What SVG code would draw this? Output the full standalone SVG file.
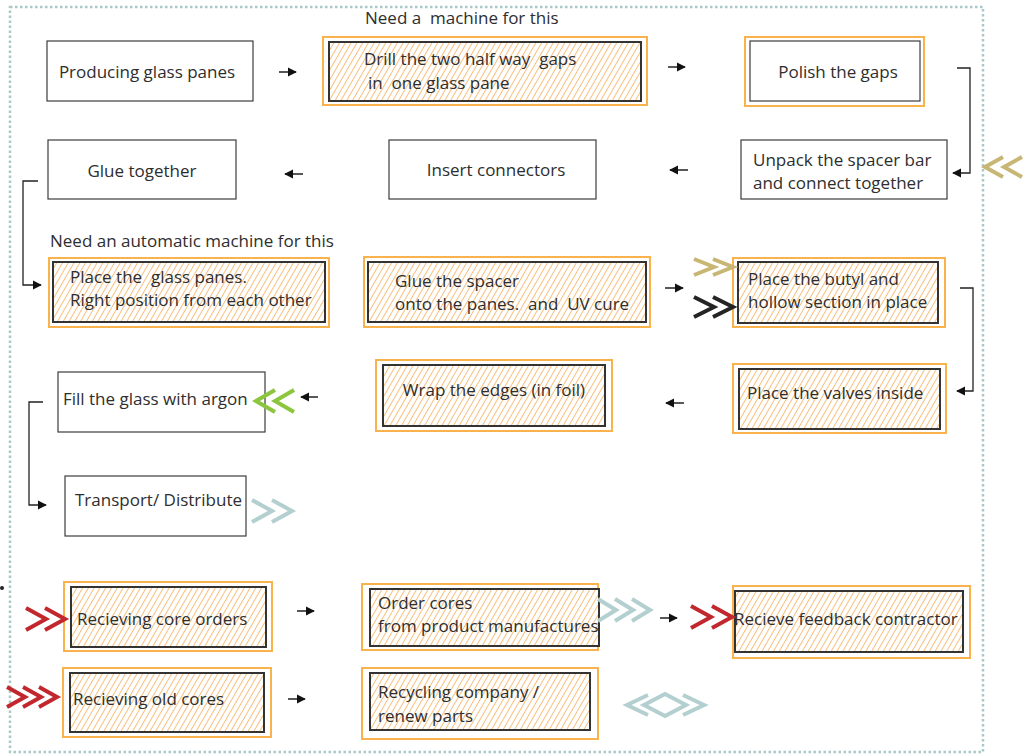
<svg xmlns="http://www.w3.org/2000/svg" width="1025" height="754" viewBox="0 0 1025 754">
  <style>
    text { font-family: "Open Sans", "Noto Sans", "Liberation Sans", sans-serif; font-size: 17px; fill: #2e2e2e; }
    .plain { fill: #ffffff; stroke: #3c3c3c; stroke-width: 1.2; }
    .outer { fill: #ffffff; stroke: #f9b24c; stroke-width: 2; }
    .inner { fill: url(#hatch); stroke: #333333; stroke-width: 2; }
    .link { fill: none; stroke: #222222; stroke-width: 1.3; }
    .step { fill: none; stroke: #111111; stroke-width: 1.4; }
    .chev { fill: none; stroke-width: 4; stroke-linejoin: miter; stroke-linecap: butt; }
    .gold { stroke: #c8b675; }
    .dark { stroke: #242424; }
    .red { stroke: #c1272d; }
    .teal { stroke: #b3cfcf; }
    .green { stroke: #8cc63f; }
  </style>
  <defs>
    <pattern id="hatch" patternUnits="userSpaceOnUse" width="5" height="5" patternTransform="rotate(30)">
      <rect width="5" height="5" fill="#ffffff"/>
      <line x1="0" y1="0" x2="0" y2="5" stroke="#f5a446" stroke-width="1.4"/>
    </pattern>
    <marker id="head" viewBox="0 0 10 10" refX="9" refY="5" markerWidth="9" markerHeight="10" markerUnits="userSpaceOnUse" orient="auto">
      <path d="M0,0 L10,5 L0,10 Z" fill="#111111"/>
    </marker>
  </defs>

  <!-- dotted frame -->
  <rect x="10" y="7" width="973" height="745" fill="none" stroke="#a9c8c8" stroke-width="2.5" stroke-dasharray="2.5 2.5"/>
  <circle cx="2" cy="588" r="2" fill="#222222"/>

  <text x="365" y="24" xml:space="preserve">Need a  machine for this</text>
  <text x="50" y="247">Need an automatic machine for this</text>

  <!-- row 1 -->
  <g id="producing">
    <rect class="plain" x="47" y="41" width="206" height="60"/>
    <text x="147" y="78" text-anchor="middle">Producing glass panes</text>
  </g>
  <g id="drill">
    <rect class="outer" x="323" y="37" width="324" height="68"/>
    <rect class="inner" x="329" y="42" width="312" height="59"/>
    <text x="364" y="65" xml:space="preserve">Drill the two half way  gaps</text>
    <text x="368" y="89" xml:space="preserve">in  one glass pane</text>
  </g>
  <g id="polish">
    <rect class="outer" x="745" y="37" width="179" height="69"/>
    <rect class="plain" x="750" y="41" width="170" height="60" stroke-width="2"/>
    <text x="838" y="78" text-anchor="middle">Polish the gaps</text>
  </g>

  <!-- row 2 -->
  <g id="unpack">
    <rect class="plain" x="741" y="140" width="206" height="59"/>
    <text x="753" y="166">Unpack the spacer bar</text>
    <text x="753" y="189">and connect together</text>
  </g>
  <g id="connectors">
    <rect class="plain" x="389" y="140" width="207" height="59"/>
    <text x="496" y="176" text-anchor="middle">Insert connectors</text>
  </g>
  <g id="glue-together">
    <rect class="plain" x="48" y="140" width="188" height="59"/>
    <text x="142" y="177" text-anchor="middle">Glue together</text>
  </g>

  <!-- row 3 -->
  <g id="place-panes">
    <rect class="outer" x="49" y="258" width="280" height="69"/>
    <rect class="inner" x="53" y="262" width="272" height="60"/>
    <text x="70" y="283" xml:space="preserve">Place the  glass panes.</text>
    <text x="70" y="306">Right position from each other</text>
  </g>
  <g id="glue-spacer">
    <rect class="outer" x="364" y="257" width="286" height="70"/>
    <rect class="inner" x="368" y="262" width="278" height="60"/>
    <text x="395" y="287">Glue the spacer</text>
    <text x="395" y="310" xml:space="preserve">onto the panes.  and  UV cure</text>
  </g>
  <g id="butyl">
    <rect class="outer" x="733" y="258" width="212" height="69"/>
    <rect class="inner" x="738" y="262" width="200" height="61"/>
    <text x="748" y="285">Place the butyl and</text>
    <text x="748" y="308">hollow section in place</text>
  </g>

  <!-- row 4 -->
  <g id="valves">
    <rect class="outer" x="733" y="364" width="213" height="69"/>
    <rect class="inner" x="739" y="369" width="201" height="60"/>
    <text x="747" y="399">Place the valves inside</text>
  </g>
  <g id="wrap">
    <rect class="outer" x="376" y="360" width="236" height="71"/>
    <rect class="inner" x="383" y="365" width="222" height="61"/>
    <text x="494" y="396" text-anchor="middle">Wrap the edges (in foil)</text>
  </g>
  <g id="argon">
    <rect class="plain" x="58" y="372" width="207" height="60"/>
    <text x="63" y="405">Fill the glass with argon</text>
  </g>

  <!-- row 5 -->
  <g id="transport">
    <rect class="plain" x="65" y="476" width="181" height="60"/>
    <text x="75" y="506">Transport/ Distribute</text>
  </g>

  <!-- core supply -->
  <g id="core-orders">
    <rect class="outer" x="64" y="582" width="208" height="69"/>
    <rect class="inner" x="71" y="587" width="195" height="60"/>
    <text x="77" y="625">Recieving core orders</text>
  </g>
  <g id="order-cores">
    <rect class="outer" x="362" y="584" width="236" height="66"/>
    <rect class="inner" x="370" y="589" width="229" height="57"/>
    <text x="378" y="609">Order cores</text>
    <text x="378" y="632">from product manufactures</text>
  </g>
  <g id="feedback">
    <rect class="outer" x="733" y="586" width="237" height="72"/>
    <rect class="inner" x="735" y="591" width="228" height="61"/>
    <text x="734" y="625">Recieve feedback contractor</text>
  </g>
  <g id="old-cores">
    <rect class="outer" x="63" y="668" width="208" height="69"/>
    <rect class="inner" x="70" y="673" width="194" height="59"/>
    <text x="73" y="705">Recieving old cores</text>
  </g>
  <g id="recycling">
    <rect class="outer" x="362" y="668" width="236" height="71"/>
    <rect class="inner" x="370" y="673" width="220" height="57"/>
    <text x="378" y="698">Recycling company /</text>
    <text x="378" y="722">renew parts</text>
  </g>

  <!-- connectors -->
  <g id="connectors-group">
    <line class="step" x1="279" y1="72" x2="296" y2="72" marker-end="url(#head)"/>
    <line class="step" x1="668" y1="67" x2="685" y2="67" marker-end="url(#head)"/>
    <polyline class="link" points="957,68 970,68 970,173 953,173" marker-end="url(#head)"/>
    <line class="step" x1="688" y1="170" x2="670" y2="170" marker-end="url(#head)"/>
    <line class="step" x1="303" y1="174" x2="285" y2="174" marker-end="url(#head)"/>
    <polyline class="link" points="38,181 23,181 23,285 41,285" marker-end="url(#head)"/>
    <line class="step" x1="665" y1="288" x2="683" y2="288" marker-end="url(#head)"/>
    <polyline class="link" points="960,288 973,288 973,391 957,391" marker-end="url(#head)"/>
    <line class="step" x1="684" y1="403" x2="666" y2="403" marker-end="url(#head)"/>
    <line class="step" x1="318" y1="397" x2="301" y2="397" marker-end="url(#head)"/>
    <polyline class="link" points="43,402 29,402 29,505 46,505" marker-end="url(#head)"/>
    <line class="step" x1="297" y1="611" x2="314" y2="611" marker-end="url(#head)"/>
    <line class="step" x1="660" y1="618" x2="677" y2="618" marker-end="url(#head)"/>
    <line class="step" x1="288" y1="699" x2="305" y2="699" marker-end="url(#head)"/>

    <!-- chevron marks -->
    <path class="chev gold" d="M1003,157 L985,167 L1003,177 M1022,157 L1004,167 L1022,177"/>
    <path class="chev gold" stroke-width="3.5" d="M694,259 L714,267 L694,275 M713,259 L733,267 L713,275"/>
    <path class="chev dark" d="M694,297 L714,307 L694,317 M713,297 L733,307 L713,317"/>
    <path class="chev green" stroke-width="3.5" d="M275,390 L256,401 L275,412 M294,390 L275,401 L294,412"/>
    <path class="chev teal" stroke-width="3.5" d="M252,500 L272,511 L252,522 M272,500 L292,511 L272,522"/>
    <path class="chev red" d="M26,608 L46,619 L26,630 M45,608 L65,619 L45,630"/>
    <path class="chev red" d="M7,687 L25,697 L7,707 M23,687 L41,697 L23,707 M39,687 L57,697 L39,707"/>
    <path class="chev teal" stroke-width="3.5" d="M598,599 L616,610 L598,621 M615,599 L633,610 L615,621 M632,599 L650,610 L632,621"/>
    <path class="chev red" d="M691,606 L711,617 L691,628 M712,606 L732,617 L712,628"/>
    <path class="chev teal" stroke-width="3.5" d="M648,695 L627,705 L648,715 M665,694 L644,705 L665,716 L686,705 Z M683,695 L704,705 L683,715"/>
  </g>
</svg>
